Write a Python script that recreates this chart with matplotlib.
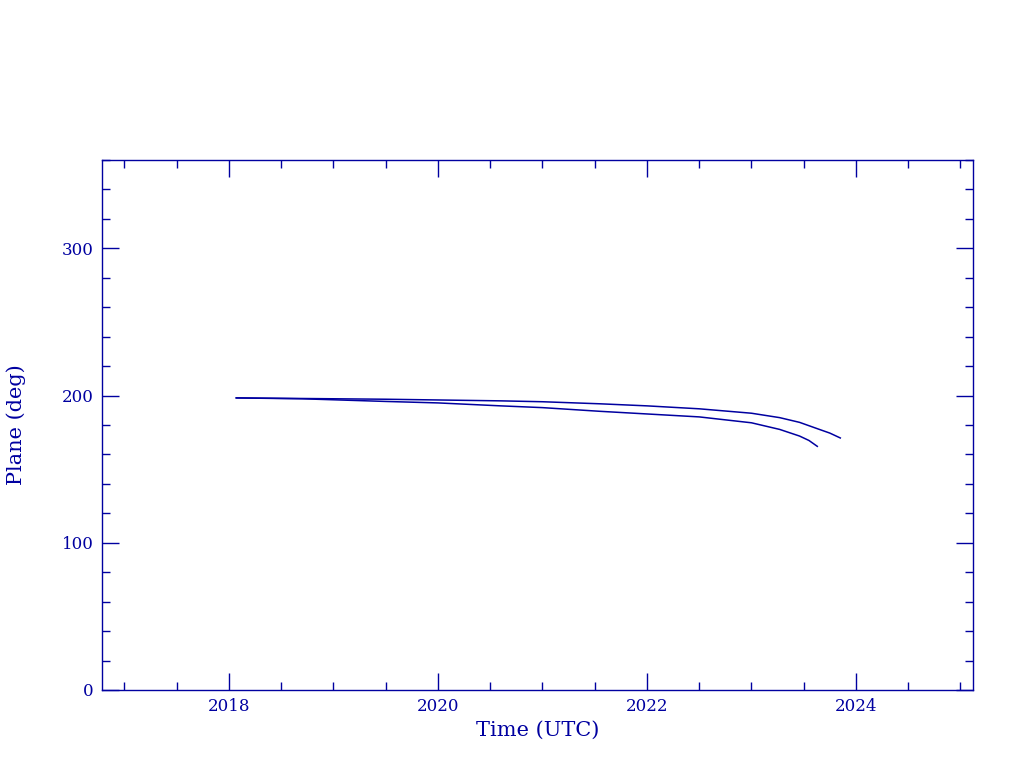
import matplotlib
matplotlib.use("Agg")
import matplotlib.pyplot as plt
from matplotlib.ticker import MultipleLocator

# Data
years_a = [2018.07, 2018.7, 2019.5, 2020.0, 2020.6, 2021.0, 2021.55, 2022.0,
           2022.5, 2023.0, 2023.27, 2023.46, 2023.65, 2023.75, 2023.85]
plane_a = [198.4, 198.0, 197.5, 197.0, 196.4, 195.8, 194.4, 193.0,
           191.0, 188.0, 185.0, 181.8, 177.0, 174.5, 171.2]

years_b = [2018.07, 2018.7, 2019.5, 2020.0, 2020.6, 2021.0, 2021.55, 2022.0,
           2022.5, 2023.0, 2023.27, 2023.46, 2023.55, 2023.63]
plane_b = [198.4, 197.8, 196.0, 195.0, 193.0, 191.8, 189.3, 187.5,
           185.5, 181.5, 177.0, 172.5, 169.5, 165.5]

x_ticks = [2018, 2020, 2022, 2024]
y_ticks = [0, 100, 200, 300]

color = "#0000a0"
plt.rcParams['font.family'] = ['DejaVu Serif']

fig = plt.figure(figsize=(10.24, 7.68), dpi=100)
ax = fig.add_axes([102/1024, 78/768, 871/1024, 530/768])

ax.plot(years_a, plane_a, color=color, lw=1.1)
ax.plot(years_b, plane_b, color=color, lw=1.1)

ax.set_xlim(2016.785, 2025.12)
ax.set_ylim(0, 360)
ax.set_xticks(x_ticks)
ax.set_yticks(y_ticks)
ax.xaxis.set_minor_locator(MultipleLocator(0.5))
ax.yaxis.set_minor_locator(MultipleLocator(20))

ax.tick_params(which='both', direction='in', top=True, right=True, color=color,
               labelcolor=color, width=1)
ax.tick_params(which='major', length=12, labelsize=12, pad=6)
ax.tick_params(which='minor', length=6)
for s in ax.spines.values():
    s.set_color(color)
    s.set_linewidth(1)

ax.set_xlabel("Time (UTC)", color=color, fontsize=15, labelpad=4)
ax.set_ylabel("Plane (deg)", color=color, fontsize=15, labelpad=26)

fig.savefig("out.png", dpi=100)
